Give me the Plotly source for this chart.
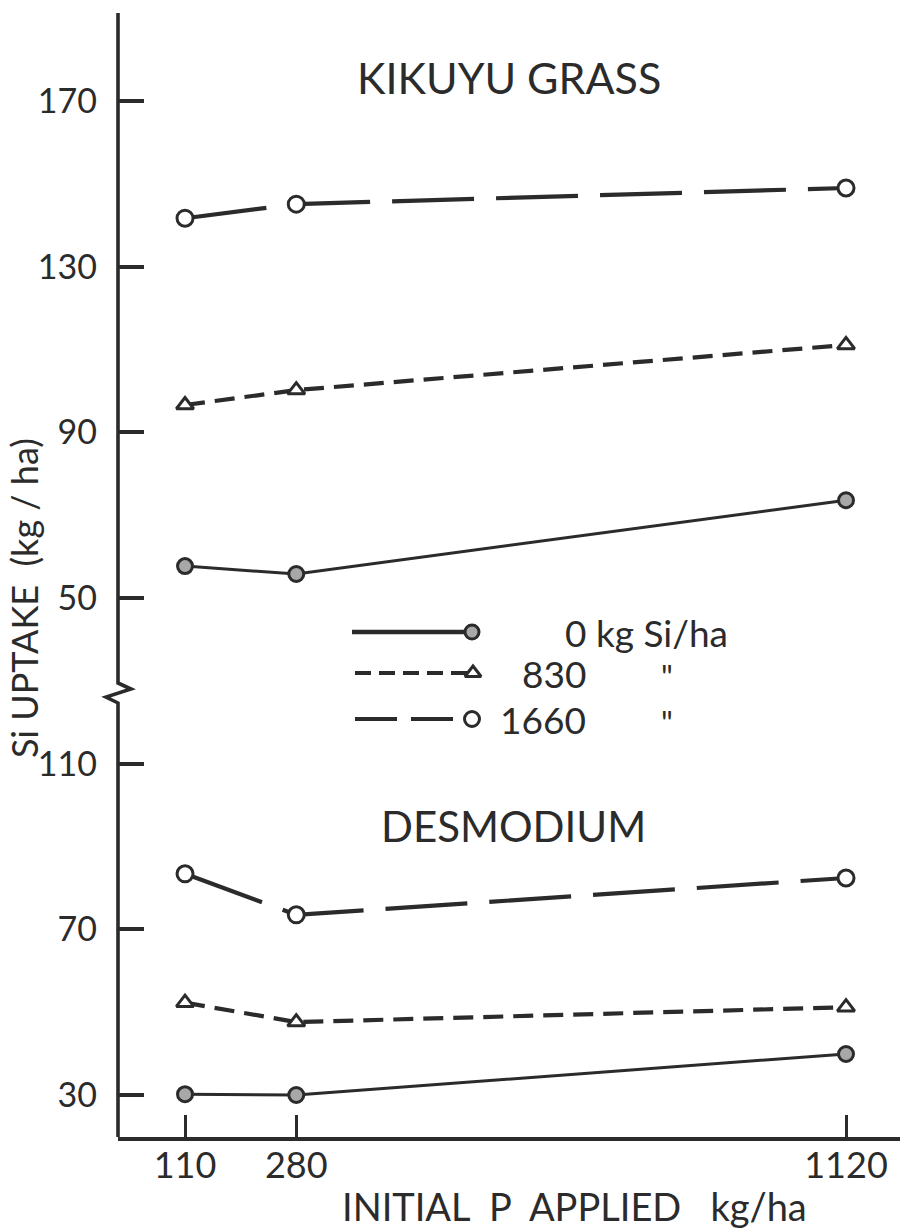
import plotly.graph_objects as go

# ---------------- data ----------------
p_applied = [110, 280, 1120]                 # initial P applied, kg/ha

# Kikuyu grass, Si uptake (kg/ha)
kikuyu_si0 = [57.7, 55.8, 73.6]
kikuyu_si830 = [96.6, 100.2, 111.1]
kikuyu_si1660 = [141.7, 145.1, 149.0]

# Desmodium, Si uptake (kg/ha)
desmo_si0 = [30.2, 30.0, 39.9]
desmo_si830 = [52.3, 47.6, 51.2]
desmo_si1660 = [83.4, 73.5, 82.4]

# broken-axis: the upper (Kikuyu) panel is shifted up by this offset
KIKUYU_OFFSET = 100
desmo_ticks = [30, 70, 110]
kikuyu_ticks = [50, 90, 130, 170]

series_labels = ["0 kg Si/ha", "830", "1660"]

# ---------------- styling ----------------
INK = "#2b2b2b"
FONT = "Lato"
W, H = 900, 1229
ML, MR, MT, MB = 118, 0, 13, 92
PW, PH = W - ML - MR, H - MT - MB


def px(xp):
    return (xp - ML) / PW


def py(yp):
    return (H - MB - yp) / PH


styles = {
    "si0": dict(dash="solid", width=3.0, symbol="circle", size=15,
                fill="#a8a8a8"),
    "si830": dict(dash="20px,10px", width=4.2, symbol="triangle-up",
                  size=15, fill="white"),
    "si1660": dict(dash="82px,22px", width=4.2, symbol="circle",
                   size=16, fill="white"),
}

fig = go.Figure()


def add_series(yvals, key, offset=0):
    st = styles[key]
    fig.add_trace(go.Scatter(
        x=p_applied, y=[v + offset for v in yvals],
        mode="lines+markers",
        line=dict(color=INK, width=st["width"], dash=st["dash"]),
        marker=dict(symbol=st["symbol"], size=st["size"], color=st["fill"],
                    line=dict(color=INK, width=3)),
        showlegend=False, hoverinfo="skip",
    ))


add_series(kikuyu_si0, "si0", KIKUYU_OFFSET)
add_series(kikuyu_si830, "si830", KIKUYU_OFFSET)
add_series(kikuyu_si1660, "si1660", KIKUYU_OFFSET)
add_series(desmo_si0, "si0")
add_series(desmo_si830, "si830")
add_series(desmo_si1660, "si1660")

# ---------------- in-plot legend (overlay pixel axes) ----------------
legend_rows = [
    ("si0", 352, 472, 632, "solid", 4.5),
    ("si830", 355, 473, 673, "16px,8px", 4.2),
    ("si1660", 355, 472, 719, "42px,14px", 4.2),
]
for key, x0, x1, yy, dash, lw in legend_rows:
    st = styles[key]
    fig.add_trace(go.Scatter(
        x=[x0, x1 - 6], y=[yy, yy], xaxis="x2", yaxis="y2",
        mode="lines",
        line=dict(color=INK, width=lw, dash=dash),
        showlegend=False, hoverinfo="skip",
    ))
    fig.add_trace(go.Scatter(
        x=[x1], y=[yy], xaxis="x2", yaxis="y2",
        mode="markers",
        marker=dict(symbol=st["symbol"], size=st["size"] - 1,
                    color=st["fill"], line=dict(color=INK, width=3)),
        showlegend=False, hoverinfo="skip",
    ))

annotations = []


def txt(text, x, y, size, xanchor="center", yanchor="middle", angle=0):
    annotations.append(dict(
        text=text, x=px(x), y=py(y), xref="paper", yref="paper",
        xanchor=xanchor, yanchor=yanchor, showarrow=False, textangle=angle,
        font=dict(family=FONT, size=size, color=INK)))


txt("KIKUYU GRASS", 509, 78, 43)
txt("DESMODIUM", 513, 826, 42)
txt(series_labels[0], 563, 632, 37, xanchor="left")
txt(series_labels[1], 588, 673, 37, xanchor="right")
txt("\"", 667, 676, 32)
txt(series_labels[2], 588, 719, 37, xanchor="right")
txt("\"", 667, 722, 32)
txt("INITIAL  P  APPLIED   kg/ha", 574, 1206, 38)
txt("Si UPTAKE  (kg / ha)", 24, 598, 36, angle=-90)

# broken y-axis line with zig-zag
axis_x = ML
shapes = [
    dict(type="path", xref="paper", yref="paper",
         path=(f"M {px(axis_x)},{py(13)} L {px(axis_x)},{py(683)} "
               f"L {px(131)},{py(689)} L {px(106)},{py(697)} "
               f"L {px(axis_x)},{py(703)} L {px(axis_x)},{py(1137)}"),
         line=dict(color=INK, width=3.6)),
]

tickvals = desmo_ticks + [t + KIKUYU_OFFSET for t in kikuyu_ticks]
ticktext = [str(t) for t in desmo_ticks] + [str(t) for t in kikuyu_ticks]

fig.update_layout(
    width=W, height=H,
    margin=dict(l=ML, r=MR, t=MT, b=MB, pad=0),
    paper_bgcolor="white", plot_bgcolor="white",
    font=dict(family=FONT, color=INK),
    xaxis=dict(
        range=[7.6, 1202.5], tickvals=p_applied,
        ticktext=[str(v) for v in p_applied],
        ticks="inside", ticklen=22, tickwidth=3, tickcolor=INK,
        showline=True, linecolor=INK, linewidth=3.6,
        showgrid=False, zeroline=False,
        tickfont=dict(family=FONT, size=36, color=INK),
        ticklabelstandoff=-6,
    ),
    yaxis=dict(
        range=[19.86, 291.25], tickvals=tickvals, ticktext=ticktext,
        ticks="inside", ticklen=26, tickwidth=3.5, tickcolor=INK,
        showline=False, showgrid=False, zeroline=False,
        tickfont=dict(family=FONT, size=34, color=INK),
        ticklabelstandoff=20,
    ),
    xaxis2=dict(range=[ML, W - MR], overlaying="x", visible=False),
    yaxis2=dict(range=[H - MB, MT], overlaying="y", visible=False),
    annotations=annotations,
    shapes=shapes,
)

fig.write_html("out.html")
